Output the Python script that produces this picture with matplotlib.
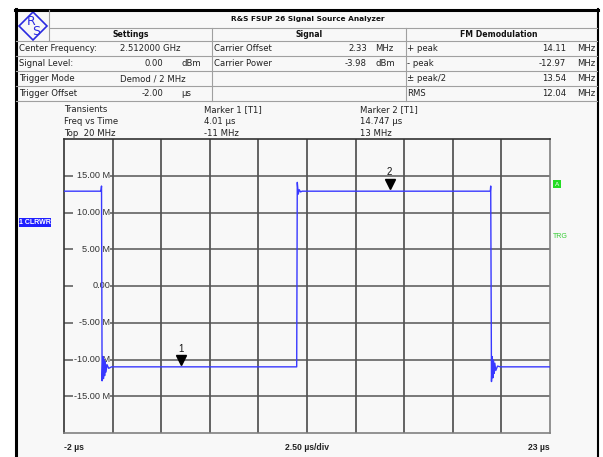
import matplotlib

matplotlib.use("Agg")

import matplotlib.pyplot as plt
import matplotlib.transforms as mtransforms
from matplotlib.patches import Polygon, Rectangle

W, H = 603, 457

# header table
title = "R&S FSUP 26 Signal Source Analyzer"
section_headers = ["Settings", "Signal", "FM Demodulation"]
settings_labels = ["Center Frequency:", "Signal Level:", "Trigger Mode", "Trigger Offset"]
settings_values = ["2.512000 GHz", "0.00", "Demod / 2 MHz", "-2.00"]
settings_units = ["", "dBm", "", "µs"]
signal_labels = ["Carrier Offset", "Carrier Power", "", ""]
signal_values = ["2.33", "-3.98", "", ""]
signal_units = ["MHz", "dBm", "", ""]
fm_labels = ["+ peak", "- peak", "± peak/2", "RMS"]
fm_values = ["14.11", "-12.97", "13.54", "12.04"]
fm_units = ["MHz", "MHz", "MHz", "MHz"]

info_trace = ["Transients", "Freq vs Time", "Top  20 MHz"]
info_marker1 = ["Marker 1 [T1]", "4.01 µs", "-11 MHz"]
info_marker2 = ["Marker 2 [T1]", "14.747 µs", "13 MHz"]

# trace (time in µs, frequency deviation in MHz)
trace_t = [-2.0, -0.10, -0.07, -0.04, 0.00, 0.03, 0.06, 0.09, 0.12, 0.16,
           0.21, 0.30, 0.45, 9.97, 10.00, 10.05, 10.10, 10.17, 10.25,
           19.93, 19.95, 19.99, 20.03, 20.06, 20.09, 20.12, 20.16, 20.21,
           20.30, 20.45, 23.0]
trace_f = [12.9, 12.9, 13.6, -12.9, -9.6, -12.6, -10.0, -12.2, -10.3, -11.7,
           -10.7, -11.2, -11.0, -11.0, 14.1, 12.5, 13.1, 12.8, 12.9,
           12.9, 13.6, -13.0, -9.6, -12.5, -10.1, -11.9, -10.5, -11.5,
           -10.9, -11.0, -11.0]

marker_t = [4.01, 14.747]
marker_f = [-11, 13]
marker_names = ["1", "2"]

ytick_vals = [15, 10, 5, 0, -5, -10, -15]
ytick_labels = ["15.00 M", "10.00 M", "5.00 M", "0.00", "-5.00 M", "-10.00 M", "-15.00 M"]
x_start, x_stop, x_div = -2.0, 23.0, 2.5
y_bottom, y_top = -20, 20

fig = plt.figure(figsize=(W / 100, H / 100), dpi=100)
fig.patch.set_facecolor("white")

# pixel-coordinate background layer
bg = fig.add_axes([0, 0, 1, 1])
bg.set_xlim(0, W)
bg.set_ylim(H, 0)
bg.axis("off")

bg.add_patch(Rectangle((16, 10), 582, 450, facecolor="#f8f8f8", edgecolor="none"))
bg.plot([16, 16], [9, H], color="black", lw=2.2)
bg.plot([15, 598], [10, 10], color="black", lw=2.2)
bg.plot([597.5, 597.5], [9, H], color="black", lw=1.5)

line_c = "#a0a0a0"
rows = [41, 56, 71, 86, 101]
bg.plot([49, 597], [28, 28], color=line_c, lw=0.8)
for y in rows:
    bg.plot([16, 597], [y, y], color=line_c, lw=0.8)
bg.plot([49, 49], [10, 41], color=line_c, lw=0.8)
bg.plot([212, 212], [28, 101], color=line_c, lw=0.8)
bg.plot([406, 406], [28, 101], color=line_c, lw=0.8)

# logo
bg.add_patch(Polygon([(33, 12), (47, 26), (33, 40), (19, 26)], closed=True,
                     facecolor="none", edgecolor="#2a2ae0", lw=1.2))
bg.text(33, 26.5, "R \n  S", color="#2a2ae0", fontsize=9, ha="center",
        va="center", linespacing=0.75)

tfont = dict(family="DejaVu Sans", fontsize=6.1, color="#222222", va="center")
bfont = dict(family="DejaVu Sans", fontsize=5.6, color="#111111", va="center",
             ha="center", fontweight="bold")
bg.text(308, 18.5, title, **dict(bfont, fontsize=5.3))
bg.text(131, 34.5, section_headers[0], **bfont)
bg.text(309, 34.5, section_headers[1], **bfont)
bg.text(499, 34.5, section_headers[2], **bfont)

row_y = [48.5, 63.5, 78.5, 93.5]
for i, y in enumerate(row_y):
    bg.text(19, y, settings_labels[i], ha="left", **tfont)
    if settings_units[i]:
        bg.text(163, y, settings_values[i], ha="right", **tfont)
        bg.text(181, y, settings_units[i], ha="left", **tfont)
    else:
        bg.text(120, y, settings_values[i], ha="left", **tfont)
    bg.text(214, y, signal_labels[i], ha="left", **tfont)
    bg.text(367, y, signal_values[i], ha="right", **tfont)
    bg.text(375, y, signal_units[i], ha="left", **tfont)
    bg.text(407, y, fm_labels[i], ha="left", **tfont)
    bg.text(566, y, fm_values[i], ha="right", **tfont)
    bg.text(577, y, fm_units[i], ha="left", **tfont)

for i, y in enumerate([109.5, 122, 133.5]):
    bg.text(64, y, info_trace[i], ha="left", **tfont)
    bg.text(204, y, info_marker1[i], ha="left", **tfont)
    bg.text(360, y, info_marker2[i], ha="left", **tfont)

# side labels
bg.add_patch(Rectangle((18.5, 218), 32, 9, facecolor="#2020ff", edgecolor="none"))
bg.text(34.5, 222.7, "1 CLRWR", color="white", fontsize=5.0, ha="center",
        va="center", fontweight="bold", family="Liberation Sans")
bg.add_patch(Rectangle((553, 180), 8, 8, facecolor="#22dd22", edgecolor="none"))
bg.text(557, 184.2, "A", color="white", fontsize=4.6, ha="center", va="center",
        family="Liberation Sans")
bg.text(553, 237, "TRG", color="#33cc33", fontsize=5, ha="left", va="center",
        family="Liberation Sans")

lfont = dict(family="Liberation Sans", fontsize=6.2, fontweight="bold",
             color="#222222", va="center")
bg.text(64, 447, f"{x_start:g} µs", ha="left", **lfont)
bg.text(307, 447, f"{x_div:.2f} µs/div", ha="center", **lfont)
bg.text(550, 447, f"{x_stop:g} µs", ha="right", **lfont)

# measurement diagram
ax = fig.add_axes([64 / W, (H - 433) / H, 486 / W, 294 / H])
ax.set_facecolor("none")
ax.set_xlim(x_start, x_stop)
ax.set_ylim(y_bottom, y_top)
ax.set_xticks([])
ax.set_yticks([])
for side in ["left", "top"]:
    ax.spines[side].set_color("#333333")
for side in ["right", "bottom"]:
    ax.spines[side].set_color("#808080")
for s in ax.spines.values():
    s.set_linewidth(1.2)

grid_x = [x_start + x_div * k for k in range(1, 10)]
for gx in grid_x:
    ax.axvline(gx, color="#3a3a3a", lw=1.1, zorder=1)
for v, lab in zip(ytick_vals, ytick_labels):
    ax.hlines(v, grid_x[0] - 0.15, x_stop, color="#555555", lw=1.1, zorder=1)
    ax.hlines(v, x_start, x_start + 0.45, color="#555555", lw=1.1, zorder=1)
    ax.text(grid_x[0] - 0.12, v, lab, ha="right", va="center", fontsize=6.6,
            family="Liberation Sans", color="#333333", zorder=2)

ax.plot(trace_t, trace_f, color="#3838ff", lw=1.0, zorder=3)

up = mtransforms.offset_copy(ax.transData, fig=fig, x=0, y=5, units="points")
up_txt = mtransforms.offset_copy(ax.transData, fig=fig, x=0, y=13, units="points")
for mt, mf, name in zip(marker_t, marker_f, marker_names):
    ax.plot([mt], [mf], marker="v", color="black", markersize=7, transform=up,
            zorder=4)
    ax.text(mt, mf, name, transform=up_txt, ha="center", va="center",
            fontsize=7, family="Liberation Sans", color="#111111")

fig.savefig("out.png", dpi=100)
